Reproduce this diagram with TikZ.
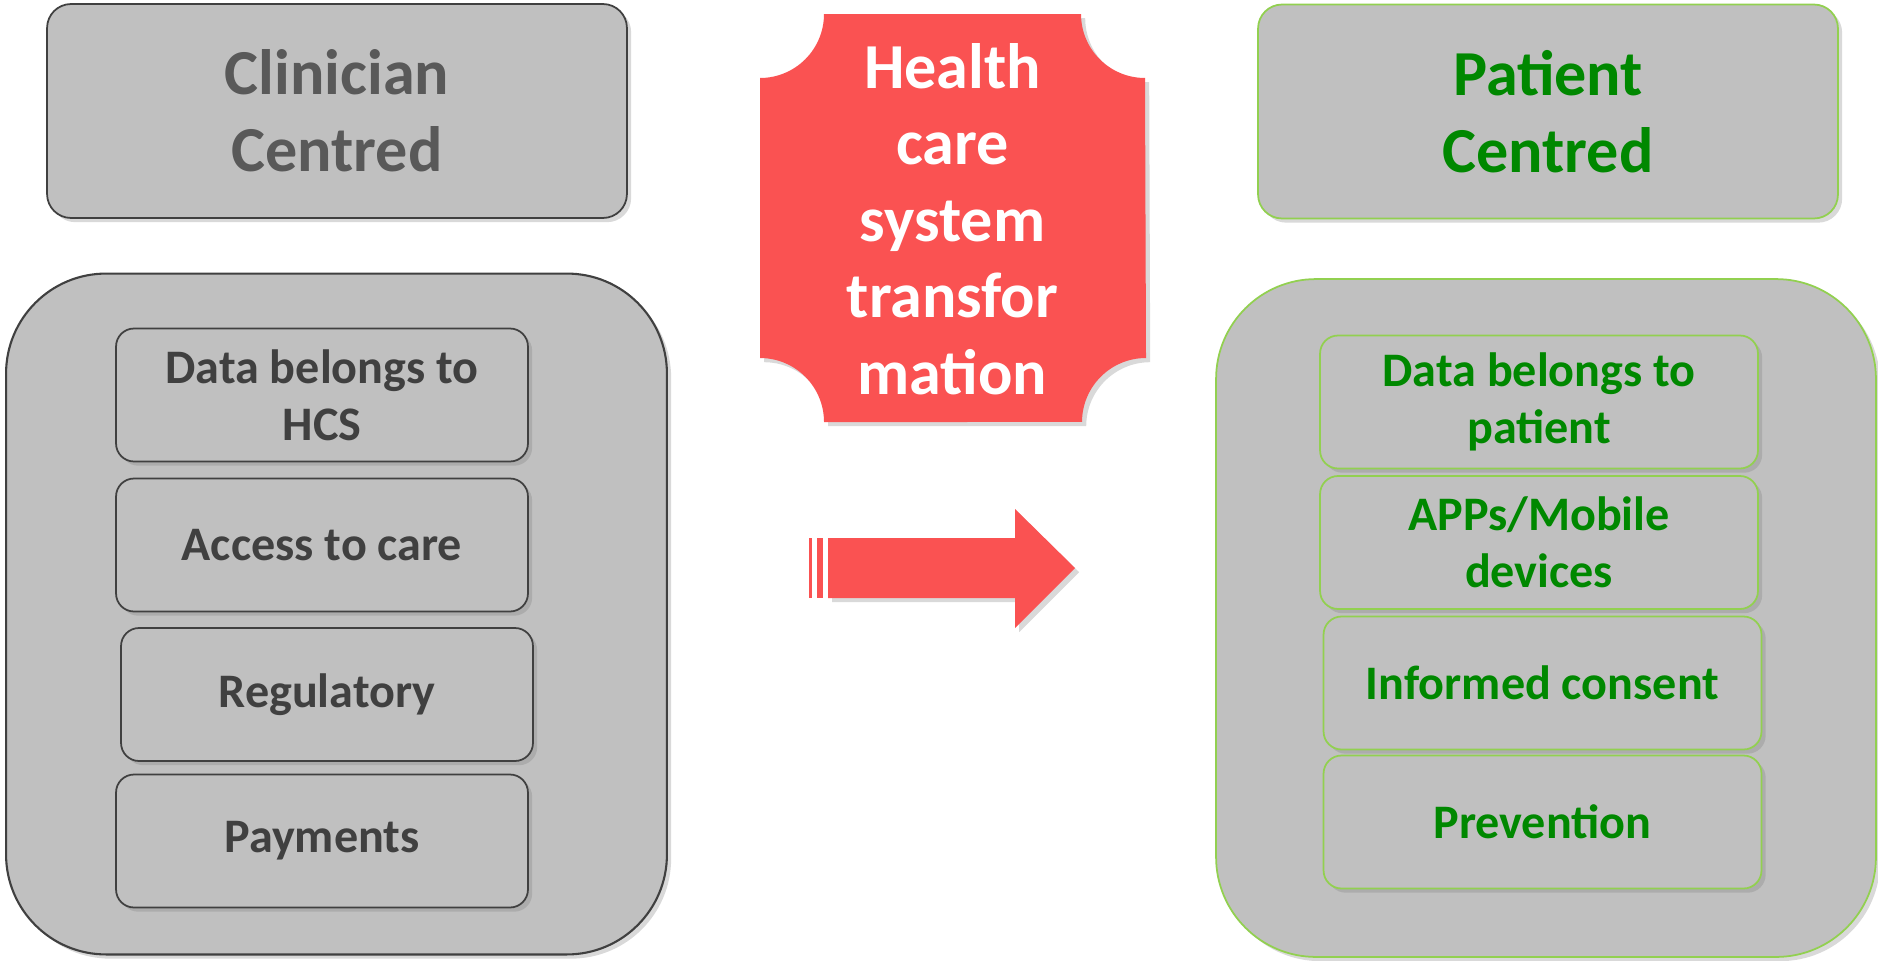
\documentclass[tikz,border=0pt]{standalone}
\usepackage{fontspec}
\setmainfont{Carlito}
\usetikzlibrary{shadows}
\definecolor{boxgray}{RGB}{192,192,192}
\definecolor{headgray}{RGB}{89,89,89}
\definecolor{itemgray}{RGB}{64,64,64}
\definecolor{patgreen}{RGB}{0,136,0}
\definecolor{rimgreen}{RGB}{146,208,80}
\definecolor{hcsred}{RGB}{250,82,82}
\begin{document}
\begin{tikzpicture}[x=0.02cm,y=-0.02cm]
\tikzset{every node/.style={align=center}}
\tikzset{panel/.style={draw, line width=1pt, fill=boxgray, drop shadow={opacity=0.3}}}
\tikzset{headbox/.style={panel, rounded corners=0.48cm, minimum width=11.6cm, minimum height=4.28cm, font=\fontsize{36.5}{44}\selectfont\bfseries}}
\tikzset{bigbox/.style={panel, rounded corners=2cm, minimum width=13.22cm, minimum height=13.62cm}}
\tikzset{itembox/.style={panel, rounded corners=0.36cm, minimum height=2.66cm, font=\fontsize{27.4}{32.5}\selectfont\bfseries}}
\tikzset{clin/.style={draw=itemgray, text=itemgray}}
\tikzset{pat/.style={draw=rimgreen, text=patgreen}}
\useasboundingbox (0,0) rectangle (1878,960);

% clinician side
\node[headbox, clin, text=headgray] (clinhead) at (337,111) {Clinician\\Centred};
\node[bigbox, clin, line width=1.2pt] (clinbig) at (336.5,614) {};
\node[itembox, clin, minimum width=8.24cm] (clindata) at (322,395) {Data belongs to\\HCS};
\node[itembox, clin, minimum width=8.24cm] (clinaccess) at (322,545) {Access to care};
\node[itembox, clin, minimum width=8.24cm] (clinreg) at (327,694.5) {Regulatory};
\node[itembox, clin, minimum width=8.24cm] (clinpay) at (322,841) {Payments};

% patient side
\node[headbox, pat] (pathead) at (1548,111.5) {Patient\\Centred};
\node[bigbox, pat, minimum width=13.2cm, minimum height=13.56cm] (patbig) at (1546,618) {};
\node[itembox, pat, minimum width=8.76cm] (patdata) at (1539,402) {Data belongs to\\patient};
\node[itembox, pat, minimum width=8.76cm] (patapps) at (1539,542.5) {APPs/Mobile\\devices};
\node[itembox, pat, minimum width=8.76cm] (patconsent) at (1542.5,683) {Informed consent};
\node[itembox, pat, minimum width=8.76cm] (patprev) at (1542.5,822) {Prevention};

% transformation plaque
\fill[hcsred, drop shadow={opacity=0.3}] (824,14) -- (1081,14) arc[start angle=180, end angle=270, radius=1.28cm]
  -- (1146,358) arc[start angle=90, end angle=180, radius=1.28cm]
  -- (824,422) arc[start angle=0, end angle=90, radius=1.28cm]
  -- (760,78) arc[start angle=270, end angle=360, radius=1.28cm] -- cycle;
\node[text=white, font=\fontsize{36.5}{43.6}\selectfont\bfseries] (hcs) at (952.5,219) {Health\\care\\system\\transfor\\mation};

% arrow
\fill[hcsred] (809,538) rectangle (812,598);
\fill[hcsred] (817,538) rectangle (823,598);
\fill[hcsred, drop shadow={opacity=0.3}] (828,538) -- (1015,538) -- (1015,509) -- (1075,568)
  -- (1015,628) -- (1015,598) -- (828,598) -- cycle;
\end{tikzpicture}
\end{document}
